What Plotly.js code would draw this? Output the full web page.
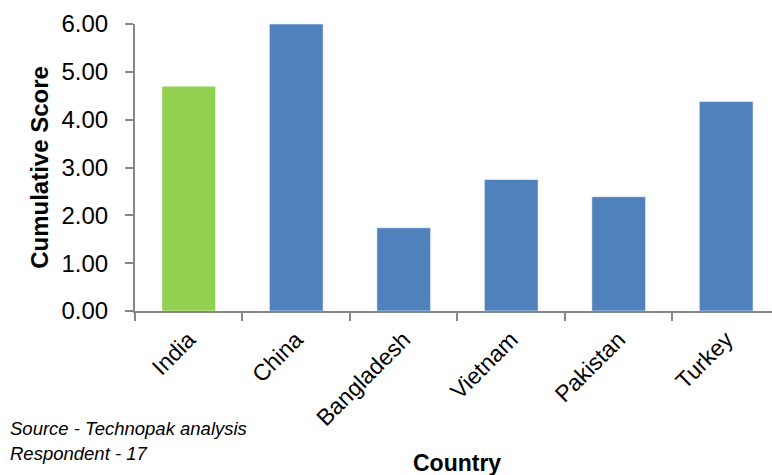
<!DOCTYPE html>
<html><head><meta charset="utf-8">
<script src="https://cdn.plot.ly/plotly-3.0.1.min.js"></script>
<style>body{margin:0;background:#fff}#c{width:772px;height:475px}</style>
</head><body><div id="c"></div>
<script>
const countries = ["India","China","Bangladesh","Vietnam","Pakistan","Turkey"];
const scores = [4.70, 6.00, 1.74, 2.75, 2.39, 4.38];
const barColors = ["#92D050","#4F81BD","#4F81BD","#4F81BD","#4F81BD","#4F81BD"];
const yTicks = [0,1,2,3,4,5,6];
const yTickText = ["0.00","1.00","2.00","3.00","4.00","5.00","6.00"];

const font = "Liberation Sans, Arial, sans-serif";
Plotly.newPlot("c", [{
  type: "bar", x: countries, y: scores,
  marker: {color: barColors, line: {color: "rgba(255,255,255,0.55)", width: 1}},
  width: 0.5, hoverinfo: "none"
}], {
  width: 772, height: 475,
  margin: {l: 135, r: 0, t: 24, b: 164},
  paper_bgcolor: "#fff", plot_bgcolor: "#fff",
  showlegend: false,
  xaxis: {
    range: [-0.5, 5.426], showline: true, linecolor: "#868686", linewidth: 2,
    ticks: "outside", tickson: "boundaries", ticklen: 8, tickcolor: "#868686", tickwidth: 2,
    tickangle: -45, tickfont: {family: font, size: 23, color: "#000"}, showgrid: false, zeroline: false,
    ticklabelstandoff: 4
  },
  yaxis: {
    range: [0, 6], tickvals: yTicks, ticktext: yTickText,
    showline: true, linecolor: "#868686", linewidth: 2,
    ticks: "outside", ticklen: 8, tickcolor: "#868686", tickwidth: 2,
    tickfont: {family: font, size: 24, color: "#000"}, showgrid: false, zeroline: false,
    ticklabelstandoff: 12,
    title: {text: "<b>Cumulative Score</b>", font: {family: font, size: 24, color: "#000"}, standoff: 6}
  },
  annotations: [
    {text: "<b>Country</b>", xref: "paper", yref: "paper", x: (457-135)/637, y: (311-463)/287, xanchor: "center", yanchor: "middle",
     showarrow: false, font: {family: font, size: 23, color: "#000"}},
    {text: "<i>Source - Technopak analysis</i>", xref: "paper", yref: "paper", x: -135/637, xshift: 8, y: (311-428)/287, xanchor: "left", yanchor: "middle",
     showarrow: false, font: {family: font, size: 18.5, color: "#000"}},
    {text: "<i>Respondent - 17</i>", xref: "paper", yref: "paper", x: -135/637, xshift: 8, y: (311-453)/287, xanchor: "left", yanchor: "middle",
     showarrow: false, font: {family: font, size: 18.5, color: "#000"}}
  ]
}, {staticPlot: true});
</script></body></html>
